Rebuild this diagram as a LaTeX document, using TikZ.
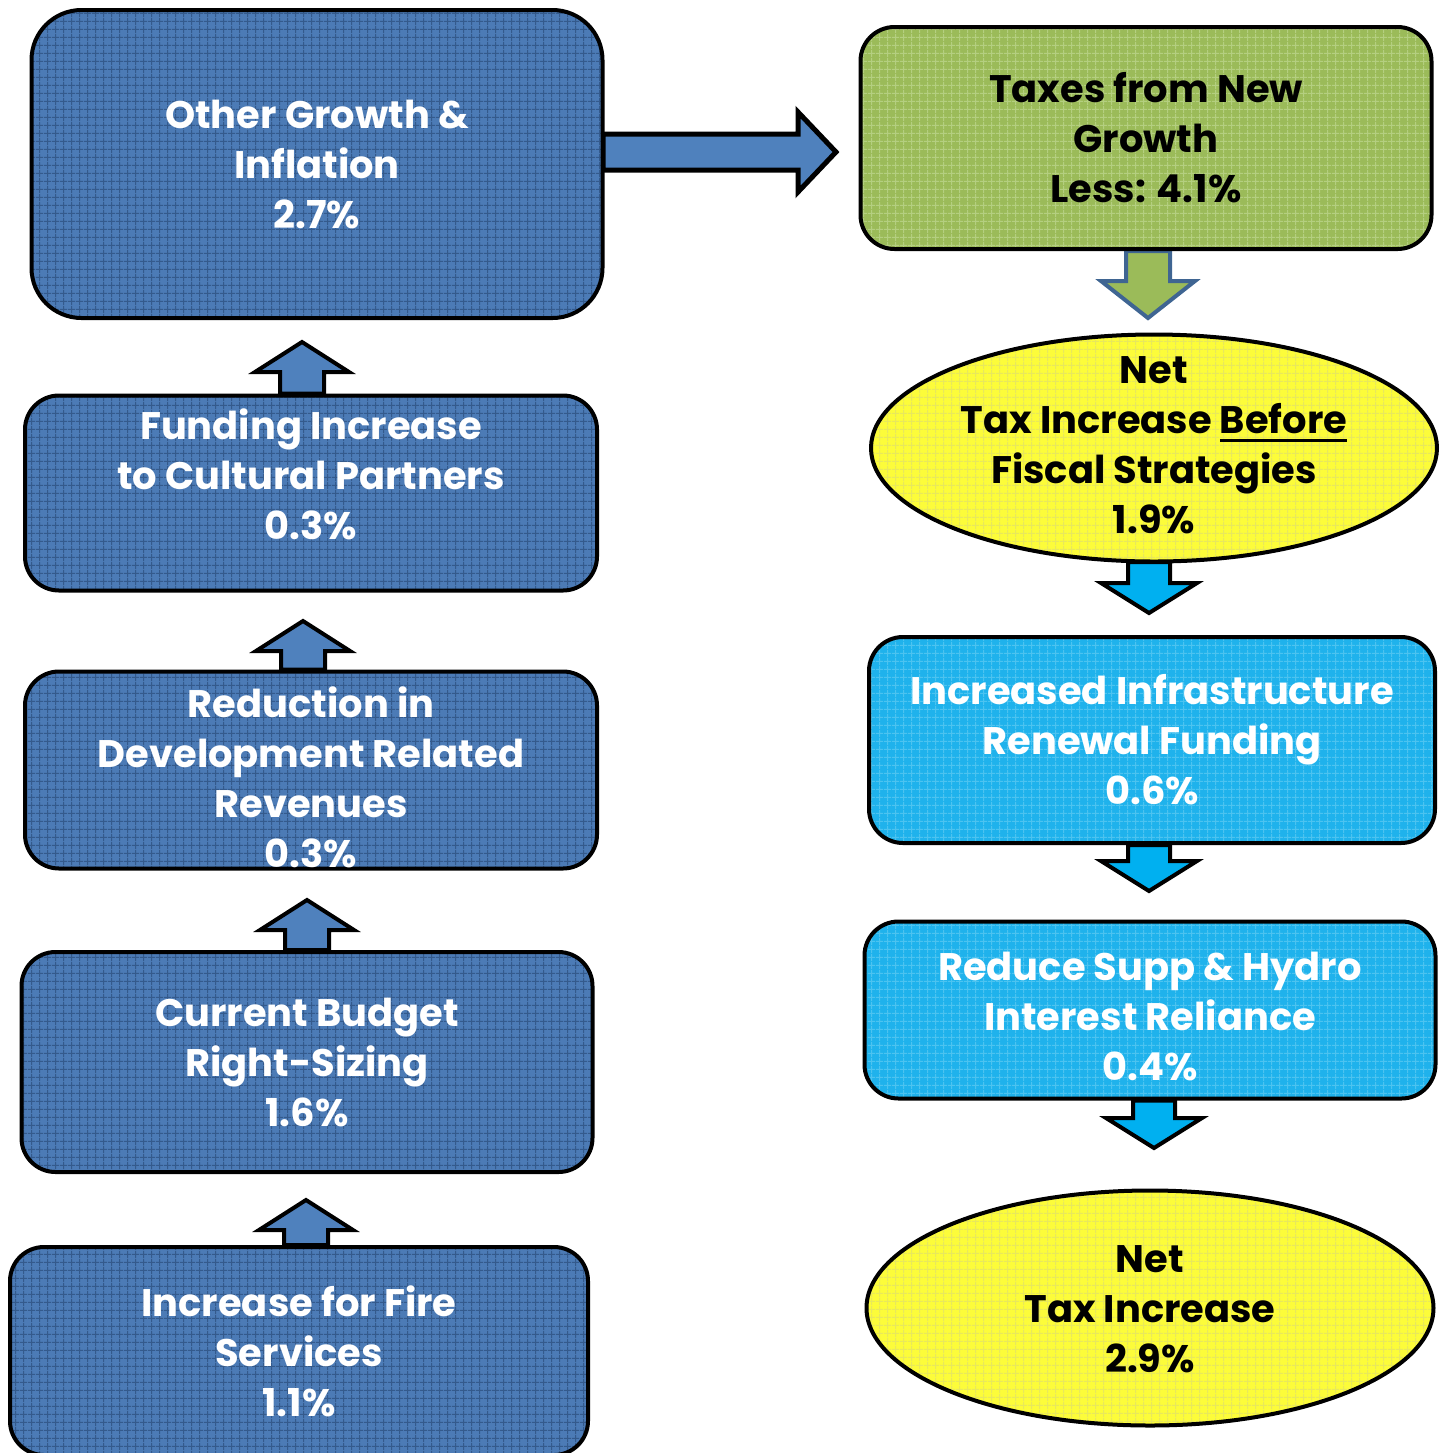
\documentclass[tikz,border=0pt]{standalone}
\usepackage{fontspec}
\setmainfont{Poppins}
\usetikzlibrary{calc,shapes.geometric,patterns.meta,backgrounds}

\definecolor{darkblue}{HTML}{4C7BB6}
\definecolor{darkgrid}{HTML}{345A8C}
\definecolor{leafgreen}{HTML}{9BBB59}
\definecolor{leafgrid}{HTML}{B4CF80}
\definecolor{sunyellow}{HTML}{FCFC3A}
\definecolor{sungrid}{HTML}{E8E85C}
\definecolor{skyblue}{HTML}{1FB2EC}
\definecolor{skygrid}{HTML}{4CC3F0}
\definecolor{arrowblue}{HTML}{00B0F0}
\definecolor{arrowfill}{HTML}{4F81BD}
\definecolor{rimblue}{HTML}{3F6592}

\newcommand\thickul[1]{\setbox0\hbox{#1}\rlap{\rule[-4pt]{\wd0}{1.4pt}}\box0}
\newcommand\shifttext[2]{\raisebox{#1}[\height][\depth]{\begin{tabular}{@{}c@{}}#2\end{tabular}}}
\newcommand\ovaltext[2]{\raisebox{#1}[0pt][0pt]{\begin{tabular}{@{}c@{}}#2\end{tabular}}}
\newcommand\arrshaft{11pt}
\newcommand\arrhead{23pt}
\newcommand\arrlen{15pt}

\tikzset{
  every node/.style={font=\fontsize{19.2}{25}\selectfont\bfseries, align=center},
  bluebox/.style={rectangle, rounded corners=17pt, draw=black, line width=2pt,
    preaction={fill=darkblue}, pattern={Hatch[angle=0,distance=4pt,line width=0.6pt]},
    pattern color=darkgrid, text=white},
  greenbox/.style={rectangle, rounded corners=17pt, draw=black, line width=2pt,
    preaction={fill=leafgreen}, pattern={Hatch[angle=0,distance=4pt,line width=0.6pt]},
    pattern color=leafgrid, text=black},
  skybox/.style={rectangle, rounded corners=17pt, draw=black, line width=2pt,
    preaction={fill=skyblue}, pattern={Hatch[angle=0,distance=4pt,line width=0.6pt]},
    pattern color=skygrid, text=white},
  netoval/.style={ellipse, inner sep=0pt, draw=black, line width=2pt,
    preaction={fill=sunyellow}, pattern={Hatch[angle=0,distance=4pt,line width=0.5pt]},
    pattern color=sungrid, text=black},
  arrsize/.code n args={3}{\def\arrshaft{#1}\def\arrhead{#2}\def\arrlen{#3}},
  blockarr/.style={line join=miter, to path={
    let \p1=(\tikztostart), \p2=(\tikztotarget),
        \p3=($(\tikztotarget)!\arrlen!(\tikztostart)$) in
    ($(\p1)!\arrshaft!90:(\p2)$) -- ($(\p3)!\arrshaft!90:(\p2)$)
    -- ($(\p3)!\arrhead!90:(\p2)$) -- (\p2) -- ($(\p3)!\arrhead!-90:(\p2)$)
    -- ($(\p3)!\arrshaft!-90:(\p2)$) -- ($(\p1)!\arrshaft!-90:(\p2)$) -- cycle}},
  uparr/.style={blockarr, arrsize={11pt}{23.5pt}{15pt}, draw=black, line width=2pt, fill=arrowfill},
  sidearr/.style={blockarr, arrsize={9pt}{20pt}{19pt}, draw=black, line width=2.5pt, fill=arrowfill},
  greenarr/.style={blockarr, arrsize={11pt}{23.5pt}{18.5pt}, draw=rimblue, line width=2pt, fill=leafgreen},
  downarr/.style={blockarr, arrsize={10.5pt}{24pt}{15pt}, draw=black, line width=2pt, fill=arrowblue},
}

\begin{document}
\begin{tikzpicture}[x=0.5pt, y=-0.5pt]
\useasboundingbox (0,0) rectangle (1447,1453);

% left column, read from the bottom up
\node[bluebox, rounded corners=25pt, minimum width=285.5pt, minimum height=154pt] (growth) at (317,164) {Other Growth \&\\Inflation\\2.7\%};
\node[bluebox, minimum width=286pt, minimum height=97.5pt] (fund) at (311,493) {\shifttext{7pt}{Funding Increase\\to Cultural Partners\\0.3\%}};
\node[bluebox, minimum width=286pt, minimum height=98.5pt] (reduc) at (311,770) {\ovaltext{-11.25pt}{Reduction in\\Development Related\\Revenues\\0.3\%}};
\node[bluebox, minimum width=285.5pt, minimum height=110pt] (budget) at (307,1062) {Current Budget\\Right-Sizing\\1.6\%};
\node[bluebox, minimum width=289pt, minimum height=104pt] (fire) at (299,1351) {Increase for Fire\\Services\\1.1\%};

% right column, read from the top down
\node[greenbox, minimum width=285.5pt, minimum height=111pt] (taxes) at (1146,138) {Taxes from New\\Growth\\Less: 4.1\%};
\node[netoval, minimum width=283pt, minimum height=113.5pt] (netbefore) at (1154,448)
  {\ovaltext{-5.5pt}{Net\\Tax Increase \thickul{Before}\\Fiscal Strategies\\1.9\%}};
\node[skybox, minimum width=283pt, minimum height=103pt] (infra) at (1152,740) {Increased Infrastructure\\Renewal Funding\\0.6\%};
\node[skybox, minimum width=285.5pt, minimum height=88.5pt] (hydro) at (1150,1010) {\shifttext{-5pt}{Reduce Supp \& Hydro\\Interest Reliance\\0.4\%}};
\node[netoval, minimum width=283.5pt, minimum height=117.5pt] (net) at (1150,1308)
  {\ovaltext{-7.5pt}{Net\\Tax Increase\\2.9\%}};

% tips of the block arrows
\coordinate (tipA) at (302,342);
\coordinate (tipB) at (303,621);
\coordinate (tipC) at (307,900);
\coordinate (tipD) at (306,1200);
\coordinate (tipR) at (836,152);
\coordinate (tipG) at (1148,318);
\coordinate (tipE) at (1149,613);
\coordinate (tipF) at (1149,891);
\coordinate (tipH) at (1154,1148);

\begin{scope}[on background layer]
  \draw[uparr] (tipD |- fire.north) to (tipD);
  \draw[uparr] (tipC |- budget.north) to (tipC);
  \draw[uparr] (tipB |- reduc.north) to (tipB);
  \draw[uparr] (tipA |- fund.north) to (tipA);
  \draw[sidearr] (growth.east |- tipR) to (tipR);
  \draw[greenarr] (tipG |- taxes.south) to (tipG);
  \draw[downarr] (tipE |- netbefore.south) to (tipE);
  \draw[downarr] (tipF |- infra.south) to (tipF);
  \draw[downarr] (tipH |- hydro.south) to (tipH);
\end{scope}

\end{tikzpicture}
\end{document}
